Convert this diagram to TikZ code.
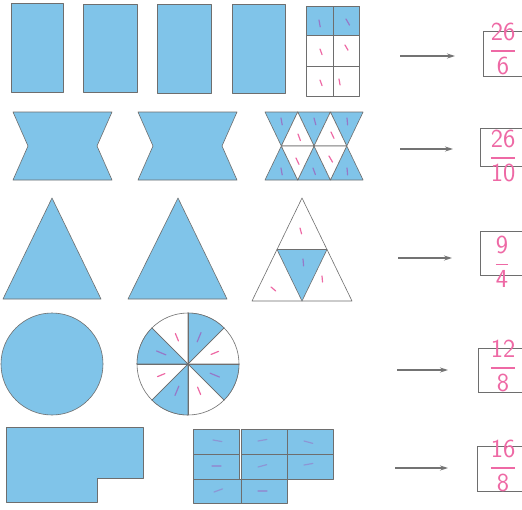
\documentclass[tikz,border=0pt]{standalone}
\usepackage{amsmath}
\usepackage{tikz}
\usetikzlibrary{arrows.meta}
\definecolor{shapeblue}{RGB}{128,196,233}
\definecolor{edgegray}{RGB}{110,110,110}
\definecolor{penpink}{RGB}{238,105,165}
\definecolor{penpurple}{RGB}{150,120,200}
\tikzset{
  part/.style={fill=shapeblue, draw=edgegray, line width=0.6pt, line join=round},
  blank/.style={fill=white, draw=edgegray, line width=0.6pt, line join=round},
  fracbox/.style={draw=edgegray, line width=0.7pt, minimum width=50pt, anchor=north west, inner sep=0pt},
  pointer/.style={draw=gray!90!black, line width=1.1pt, -{Stealth[length=8pt,width=5pt]}},
  answer/.style={text=penpink, font=\sffamily\fontsize{26}{28}\selectfont, inner sep=0pt},
  pinkmark/.style={penpink, line width=1.2pt, line cap=round},
  bluemark/.style={penpurple, line width=1.2pt, line cap=round},
}
\newcommand{\handfrac}[2]{$\genfrac{}{}{1.4pt}{0}{\text{#1}}{\text{#2}}$}

\begin{document}
\begin{tikzpicture}[x=1pt, y=-1pt]
  \useasboundingbox[fill=white] (0,0) rectangle (522,509);
  % ================================================================
  % row 1: rectangles, 26/6
  % ================================================================
  \draw[part] (11,3) rectangle (63,92);
  \draw[part] (83,4) rectangle (137,92);
  \draw[part] (157,4) rectangle (211,93);
  \draw[part] (232,4) rectangle (285,93);
  \draw[blank] (306,6) rectangle (359,96);
  \draw[part] (306,6) rectangle (359,35);
  \draw[edgegray, line width=0.6pt] (333,6) -- (333,96) (306,66) -- (359,66);
  \foreach \x/\y/\a in {319/20/80, 346/19/60}
    \draw[bluemark] (\x,\y) -- ++(\a:7);
  \foreach \x/\y/\a in {320/49/70, 345/45/60, 320/80/70, 339/79/80}
    \draw[pinkmark] (\x,\y) -- ++(\a:6);
  \coordinate (a1) at (400,56);
  \coordinate (t1) at (455,56);
  \draw[pointer] (a1) -- (t1);
  \node[fracbox, minimum height=45pt] (box1) at (483,31) {};
  \node[answer] (f1) at (503,49) {\handfrac{26}{6}};
  % ================================================================
  % row 2: notched shapes, 26/10
  % ================================================================
  \draw[part] (13,112) -- (112,112) -- (97,146) -- (112,180) -- (13,180) -- (28,146) -- cycle;
  \draw[part] (138,112) -- (237,112) -- (222,146) -- (237,180) -- (138,180) -- (153,146) -- cycle;
  \begin{scope}[shift={(265,112)}]
    \foreach \i in {0,1,2} {
      \draw[part] (\i*32.7,0) -- (\i*32.7+32.7,0) -- (\i*32.7+16.35,34) -- cycle;
      \draw[part] (\i*32.7,68) -- (\i*32.7+32.7,68) -- (\i*32.7+16.35,34) -- cycle;
    }
    \foreach \i in {0,1} {
      \draw[blank] (\i*32.7+16.35,34) -- (\i*32.7+49.05,34) -- (\i*32.7+32.7,0) -- cycle;
      \draw[blank] (\i*32.7+16.35,34) -- (\i*32.7+49.05,34) -- (\i*32.7+32.7,68) -- cycle;
    }
  \end{scope}
  \foreach \x/\y/\a in {281/118/80, 314/118/75, 347/118/85, 281/168/80, 313/168/70, 347/168/85}
    \draw[bluemark] (\x,\y) -- ++(\a:7);
  \foreach \x/\y/\a in {298/134/70, 331/132/65, 296/158/65, 329/156/60}
    \draw[pinkmark] (\x,\y) -- ++(\a:7);
  \coordinate (a2) at (400,149);
  \coordinate (t2) at (453,149);
  \draw[pointer] (a2) -- (t2);
  \node[fracbox, minimum height=38pt] (box2) at (480,128) {};
  \node[answer] (f2) at (503,156) {\handfrac{26}{10}};
  % ================================================================
  % row 3: triangles, 9/4
  % ================================================================
  \draw[part] (3,299) -- (101,299) -- (52,198) -- cycle;
  \draw[part] (128,299) -- (227,299) -- (178,198) -- cycle;
  \draw[blank] (252,301) -- (352,301) -- (302,198) -- cycle;
  \draw[part] (277,249.5) -- (327,249.5) -- (302,301) -- cycle;
  \draw[bluemark] (303,259) -- ++(85:7);
  \foreach \x/\y/\a in {300/228/75, 271/287/40, 322/276/85}
    \draw[pinkmark] (\x,\y) -- ++(\a:6);
  \coordinate (a3) at (398,258);
  \coordinate (t3) at (452,258);
  \draw[pointer] (a3) -- (t3);
  \node[fracbox, minimum height=44pt] (box3) at (480,231) {};
  \node[answer] (f3) at (502,262) {\handfrac{9}{4}};
  % ================================================================
  % row 4: circles, 12/8
  % ================================================================
  \draw[part] (52,364) circle (51);
  \begin{scope}[shift={(188,364)}, yscale=-1]
    \draw[blank] (0,0) circle (51);
    \foreach \a in {45,135,225,315}
      \draw[part] (0,0) -- (\a:51) arc[start angle=\a, end angle=\a+45, radius=51] -- cycle;
    \foreach \a in {0,45,90,135}
      \draw[edgegray, line width=0.6pt] (\a:51) -- (\a+180:51);
    \foreach \a in {67.5,157.5,247.5,337.5}
      \draw[bluemark] (\a:24) -- (\a:34);
    \foreach \a in {22.5,112.5,202.5,292.5}
      \draw[pinkmark] (\a:25) -- (\a:33);
  \end{scope}
  \coordinate (a4) at (397,370);
  \coordinate (t4) at (448,370);
  \draw[pointer] (a4) -- (t4);
  \node[fracbox, minimum height=44pt] (box4) at (478,348) {};
  \node[answer] (f4) at (503,366) {\handfrac{12}{8}};
  % ================================================================
  % row 5: L shapes, 16/8
  % ================================================================
  \draw[part] (6,427) -- (143,427) -- (143,478) -- (97,478) -- (97,502) -- (6,502) -- cycle;
  \foreach \x in {193,241,287} {
    \draw[part] (\x,429) rectangle ++(46,25);
    \draw[part] (\x,454) rectangle ++(46,25);
  }
  \draw[part] (193,479) rectangle (241,503);
  \draw[part] (241,479) rectangle (287,503);
  \foreach \x/\y/\a in {213/440/10, 258/441/-10, 304/441/15, 212/466/0, 258/467/-15, 304/465/-10, 214/492/-20, 258/491/0}
    \draw[bluemark, opacity=0.6] (\x,\y) -- ++(\a:9);
  \coordinate (a5) at (395,468);
  \coordinate (t5) at (448,468);
  \draw[pointer] (a5) -- (t5);
  \node[fracbox, minimum height=45pt] (box5) at (477,446) {};
  \node[answer] (f5) at (503,466) {\handfrac{16}{8}};
\end{tikzpicture}
\end{document}
